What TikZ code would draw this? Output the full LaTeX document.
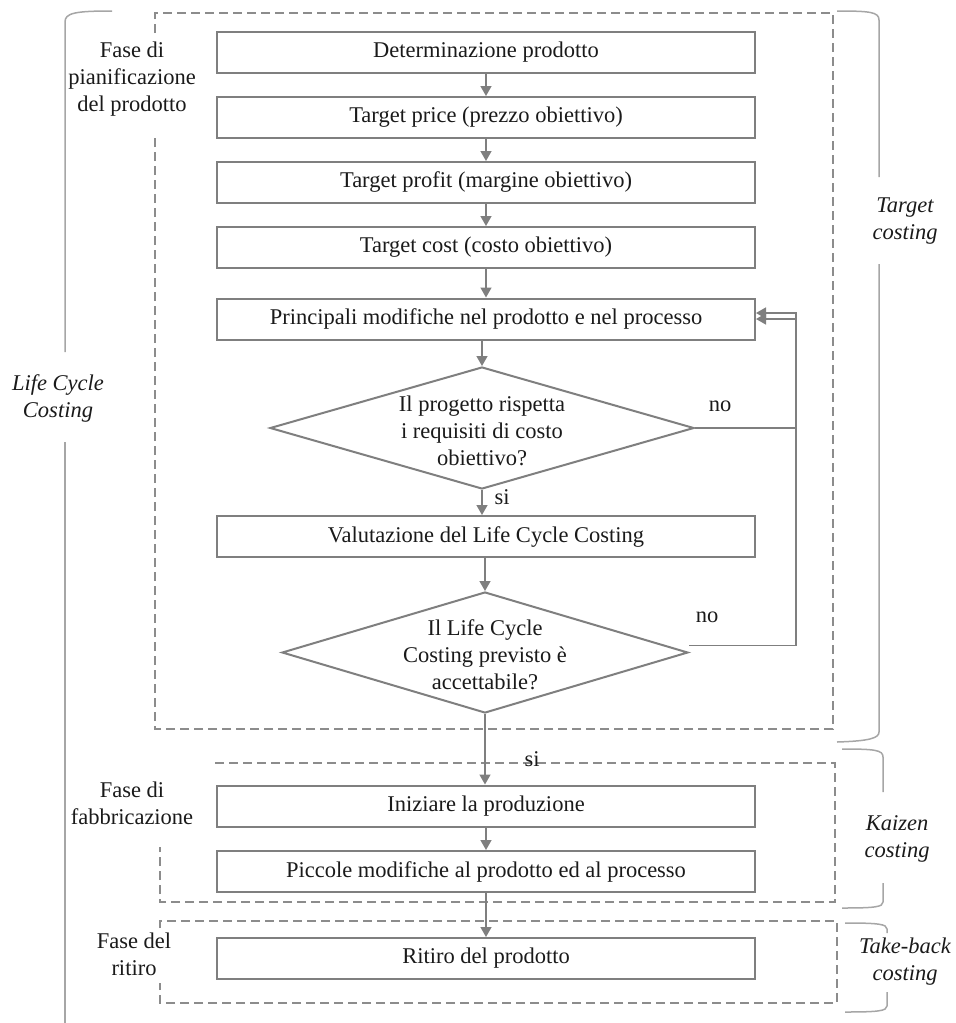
\documentclass[tikz,border=0pt]{standalone}
\usepackage{fontspec}
\setmainfont{Liberation Serif}
\usetikzlibrary{arrows.meta,shapes.geometric}
\definecolor{boxgray}{HTML}{7F7F7F}
\definecolor{dashgray}{HTML}{8C8C8C}
\definecolor{bracegray}{HTML}{A6A6A6}
\definecolor{txtcol}{HTML}{1A1A1A}
\begin{document}
\begin{tikzpicture}[x=1pt,y=-1pt,
  every node/.style={font=\fontsize{22.5}{27}\selectfont, text=txtcol},
  procbox/.style={draw=boxgray, line width=2pt, minimum width=538pt, minimum height=41pt, inner sep=0pt},
  decbox/.style={diamond, draw=boxgray, line width=2pt, inner sep=0pt},
  flow/.style={draw=boxgray, line width=1.5pt, -{Triangle[length=10pt,width=11pt]}},
  phase/.style={draw=dashgray, line width=2pt, dash pattern=on 9pt off 5pt},
  bracel/.style={draw=bracegray, line width=1.5pt},
  lbl/.style={align=center, inner sep=0pt},
  itlbl/.style={align=center, inner sep=0pt, font=\fontsize{22.5}{27}\selectfont\itshape},
]
\useasboundingbox (0,0) rectangle (956,1023);

% dashed phase frames
\draw[phase] (155,33) -- (155,13) -- (833,13) -- (833,729) -- (155,729) -- (155,135);
\draw[phase] (215,763) -- (835,763) -- (835,902) -- (160,902) -- (160,847);
\draw[phase] (160,928) -- (160,921) -- (837,921) -- (837,1003) -- (160,1003) -- (160,983);

% braces
\draw[bracel] (112,11) .. controls (75,11) and (65,13) .. (65,22) -- (65,352);
\draw[bracel] (65,442) -- (65,1023);
\draw[bracel] (837,11) .. controls (870,11) and (879,12) .. (879,20) -- (879,177);
\draw[bracel] (879,264) -- (879,732) .. controls (879,738) and (870,741) .. (837,742);
\draw[bracel] (842,749) .. controls (875,749) and (883,750) .. (883,757) -- (883,792);
\draw[bracel] (883,883) -- (883,902) .. controls (883,907) and (875,908) .. (842,908);
\draw[bracel] (845,923) .. controls (878,923) and (887,924) .. (887,929) -- (887,933);
\draw[bracel] (887,992) -- (887,1006) .. controls (887,1011) and (878,1012) .. (845,1012);

% side labels
\node[itlbl] (lcc) at (58,398.5) {Life Cycle\\Costing};
\node[itlbl] (tc) at (905,221) {Target\\costing};
\node[itlbl] (kc) at (897,838.5) {Kaizen\\costing};
\node[itlbl] (tbc) at (905,961.5) {Take-back\\costing};
\node[lbl] (p1) at (132,79) {Fase di\\pianificazione\\del prodotto};
\node[lbl] (p2) at (132,803.5) {Fase di\\fabbricazione};
\node[lbl] (p3) at (134,954) {Fase del\\ritiro};

% process boxes
\node[procbox] (b1) at (486,52.5) {Determinazione prodotto};
\node[procbox] (b2) at (486,117.5) {Target price (prezzo obiettivo)};
\node[procbox] (b3) at (486,182.5) {Target profit (margine obiettivo)};
\node[procbox] (b4) at (486,247.5) {Target cost (costo obiettivo)};
\node[procbox] (b5) at (486,319) {Principali modifiche nel prodotto e nel processo};
\node[procbox] (b6) at (486,536.5) {Valutazione del Life Cycle Costing};
\node[procbox] (b7) at (486,806) {Iniziare la produzione};
\node[procbox] (b8) at (486,871.5) {Piccole modifiche al prodotto ed al processo};
\node[procbox] (b9) at (486,958.5) {Ritiro del prodotto};

% decisions
\node[decbox, minimum width=424pt, minimum height=122pt] (d1) at (482,428) {};
\node[lbl] (d1txt) at (482,430.5) {Il progetto rispetta\\i requisiti di costo\\obiettivo?};
\node[decbox, minimum width=406pt, minimum height=121pt] (d2) at (485,652.5) {};
\node[lbl] (d2txt) at (485,654.5) {Il Life Cycle\\Costing previsto è\\accettabile?};

% flow arrows
\draw[flow] (b1) -- (b2);
\draw[flow] (b2) -- (b3);
\draw[flow] (b3) -- (b4);
\draw[flow] (b4) -- (b5);
\draw[flow] (d1.north |- b5.south) -- (d1.north);
\draw[flow] (d1.south) -- (d1.south |- b6.north);
\draw[flow] (d2.north |- b6.south) -- (d2.north);
\draw[flow] (d2.south) -- (d2.south |- b7.north);
\draw[flow] (b7) -- (b8);
\draw[flow] (b8) -- (b9);

% loops back
\coordinate (lp) at (796,0);
\draw[flow] (d1.east) -- (d1.east -| lp) |- (b5.east);
\draw[flow] ([yshift=7pt]d2.east) -- ([yshift=7pt]d2.east -| lp) |- ([yshift=6pt]b5.east);

% branch labels
\node[lbl] (no1) at (720,406) {no};
\node[lbl] (no2) at (707,617) {no};
\node[lbl] (si1) at (502,497) {si};
\node[lbl] (si2) at (532,759) {si};
\end{tikzpicture}
\end{document}
